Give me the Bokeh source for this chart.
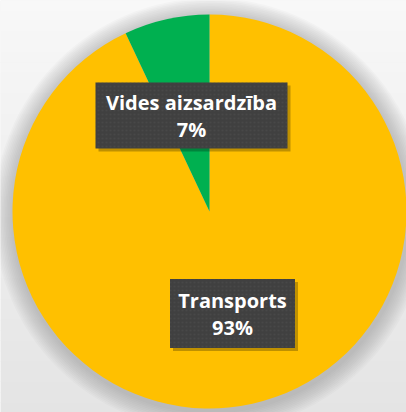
import math
from bokeh.plotting import figure
from bokeh.models import Range1d, ColumnDataSource
from bokeh.core.properties import value
from bokeh.embed import file_html
from bokeh.resources import INLINE

# ---- data ----
categories = ["Transports", "Vides aizsardzība"]
values = [93, 7]
colors = ["#FFC000", "#00B050"]

# ---- layout constants (reference pixel coordinates) ----
W, H = 406, 412
CX, CY_REF, R = 209, 211, 197
label_centers_ref = [(232, 313), (191, 115)]
label_box_sizes = [(125, 69), (192, 66)]

def fy(y_ref):
    return H - y_ref

p = figure(width=W, height=H, output_backend="svg", toolbar_location=None,
           x_range=Range1d(0, W), y_range=Range1d(0, H),
           min_border=0, outline_line_color=None)
p.axis.visible = False
p.grid.visible = False
p.background_fill_color = "#f0f0f0"
p.border_fill_color = "#f0f0f0"

# background vertical gradient
n = 40
top_c, bot_c = (248, 248, 248), (228, 228, 228)
ys0, ys1, cols = [], [], []
for i in range(n):
    t = i / (n - 1)
    c = tuple(int(round(top_c[k] + (bot_c[k] - top_c[k]) * t)) for k in range(3))
    y_top = H - i * H / n
    ys1.append(y_top)
    ys0.append(y_top - H / n - 0.5)
    cols.append("#%02x%02x%02x" % c)
p.quad(left=0, right=W, bottom=ys0, top=ys1, fill_color=cols, line_color=None)

# soft shadow around pie
cy = fy(CY_REF)
for k in range(12):
    p.circle(x=CX + 1, y=cy - 3, radius=R + 2 + k * 1.6, fill_color="#808080",
             fill_alpha=0.04, line_color=None)

# pie wedges: start at 12 o'clock, clockwise
total = sum(values)
starts, ends = [], []
acc = 0.0
for v in values:
    a0 = math.pi / 2 - 2 * math.pi * acc / total
    acc += v
    a1 = math.pi / 2 - 2 * math.pi * acc / total
    starts.append(a0)
    ends.append(a1)
src = ColumnDataSource(dict(cat=categories, val=values, color=colors,
                            start=starts, end=ends))
p.wedge(x=CX, y=cy, radius=R, start_angle="start", end_angle="end",
        direction="clock", fill_color="color", line_color=None, source=src)

# labels
pct = [round(100 * v / total) for v in values]
texts = [f"{c}\n{q}%" for c, q in zip(categories, pct)]
lx = [c[0] for c in label_centers_ref]
ly = [fy(c[1]) for c in label_centers_ref]
bw = [s[0] for s in label_box_sizes]
bh = [s[1] for s in label_box_sizes]
lab = ColumnDataSource(dict(x=lx, y=ly, sx=[x + 3 for x in lx], sy=[y - 3 for y in ly],
                            w=bw, h=bh, text=texts))
p.rect(x="sx", y="sy", width="w", height="h", source=lab,
       fill_color="#000000", fill_alpha=0.25, line_color=None)
p.rect(x="x", y="y", width="w", height="h", source=lab,
       fill_color="#404040", line_color=None,
       hatch_pattern="dot", hatch_color="#555555", hatch_scale=4, hatch_alpha=0.35)
p.text(x="x", y="y", text="text", source=lab, text_align="center",
       text_baseline="middle", text_color="#ffffff",
       text_font=value("Open Sans"), text_font_style="bold",
       text_font_size="20px", text_line_height=1.0)

open("out.html", "w").write(file_html(p, INLINE))
